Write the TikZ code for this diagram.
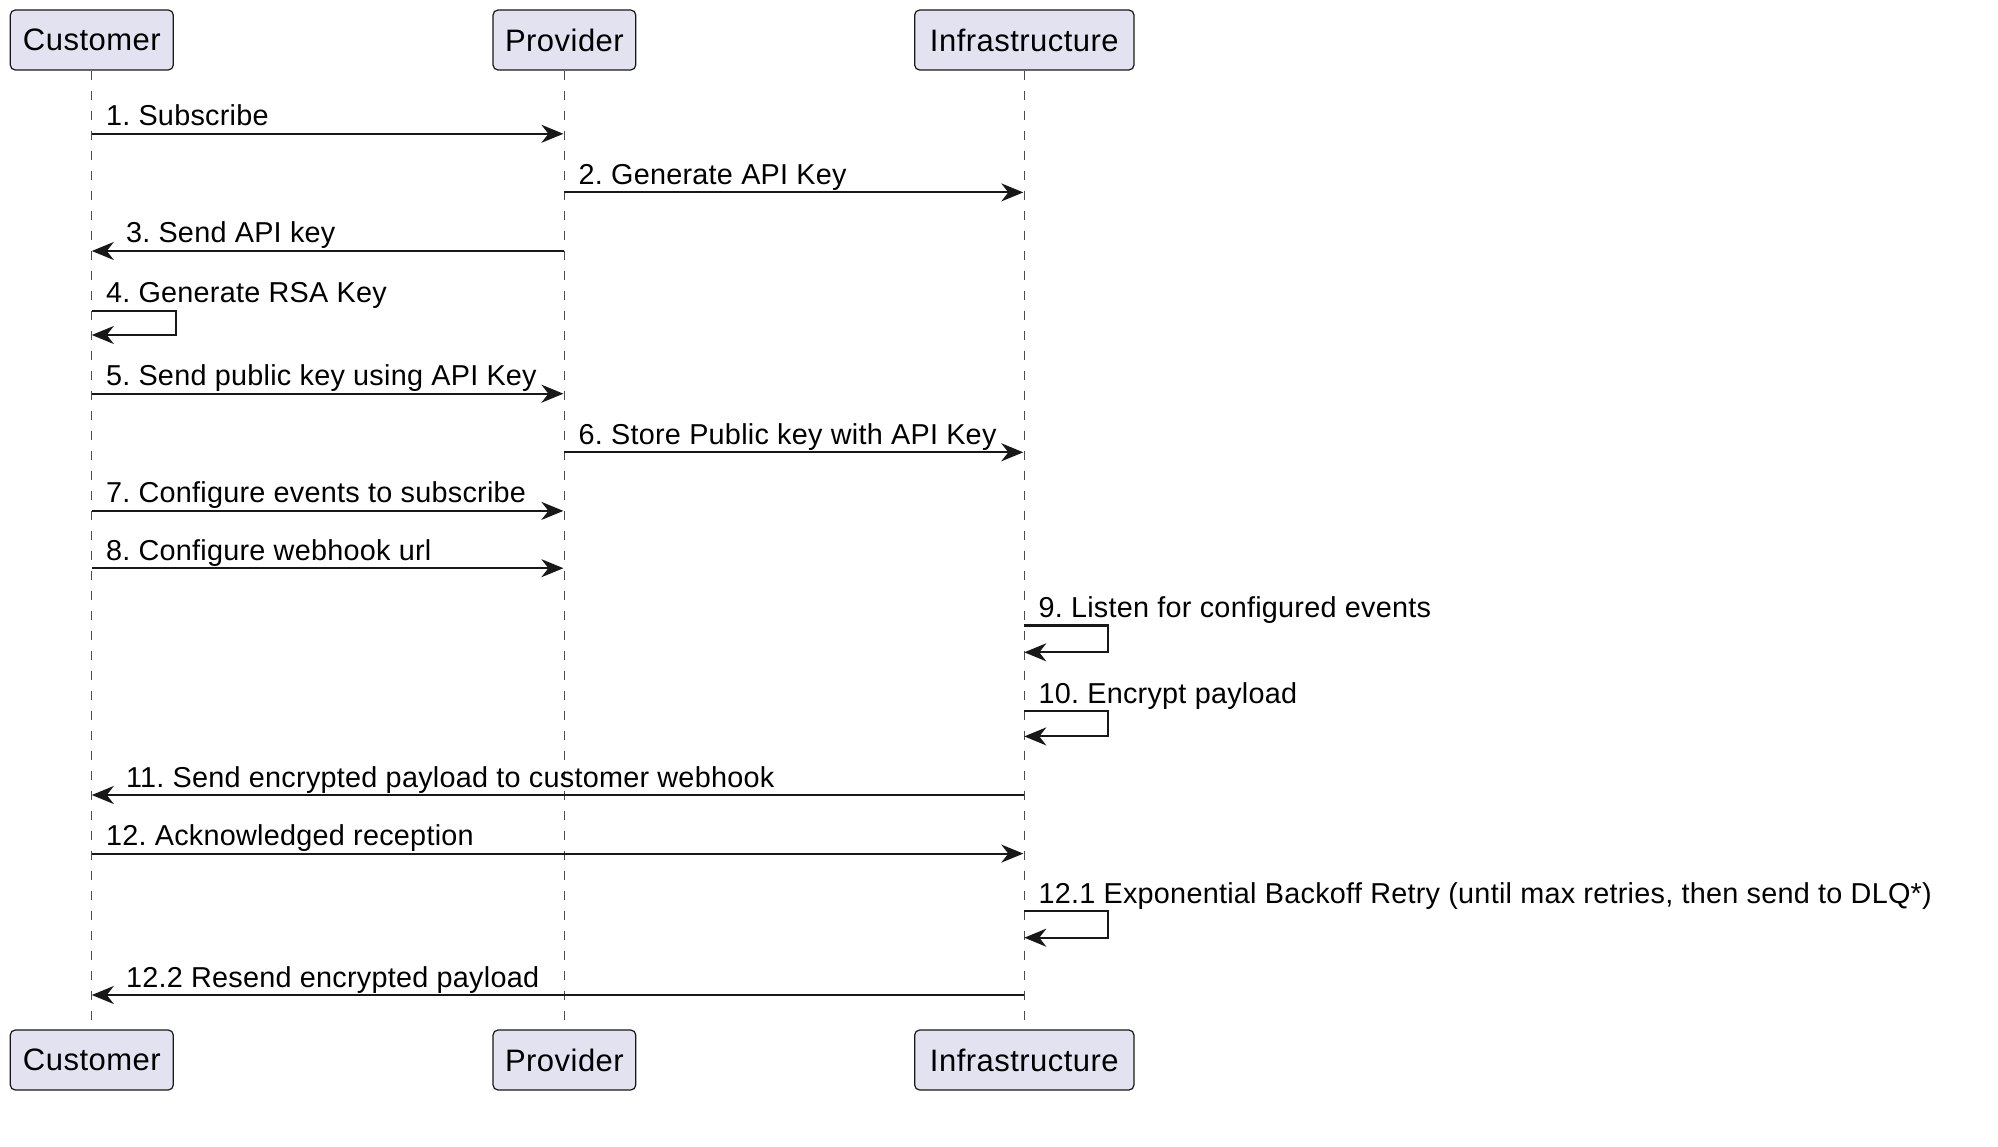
\documentclass[tikz,border=0pt]{standalone}
\usepackage{fontspec}
\setmainfont{Liberation Sans}
\newfontfamily\msgfont[LetterSpace=0.9]{Liberation Sans}
\newfontfamily\partfont[LetterSpace=1.5]{Liberation Sans}
\usetikzlibrary{arrows.meta}
\definecolor{partfill}{HTML}{E2E2F0}
\definecolor{ink}{HTML}{181818}
\frenchspacing
\begin{document}
\begin{tikzpicture}[x=1pt,y=-1pt,
  part/.style={draw=ink, line width=1.2pt, fill=partfill, rounded corners=5pt,
    minimum height=60pt, inner sep=0pt, font=\partfont\fontsize{31}{37}\selectfont, text=black},
  life/.style={draw=black!70, line width=1.3pt, dash pattern=on 9pt off 11pt},
  msg/.style={draw=ink, line width=2.1pt, -{Stealth[length=22pt,width=18pt,inset=7pt]}},
  lbl/.style={anchor=base west, inner sep=0pt, font=\msgfont\fontsize{28.8}{34}\selectfont, text=black},
]
\useasboundingbox[fill=white] (0,0) rectangle (1998,1147);

% participants
\node[part, minimum width=163pt] (cT) at (91.8,40) {Customer};
\node[part, minimum width=142.7pt] (pT) at (564.4,40) {Provider};
\node[part, minimum width=219.3pt] (iT) at (1024.3,40) {Infrastructure};
\node[part, minimum width=163pt] (cB) at (91.8,1060) {Customer};
\node[part, minimum width=142.7pt] (pB) at (564.4,1060) {Provider};
\node[part, minimum width=219.3pt] (iB) at (1024.3,1060) {Infrastructure};

% lifelines
\draw[life] (cT.south) -- (cB.north);
\draw[life] (pT.south) -- (pB.north);
\draw[life] (iT.south) -- (iB.north);

% coordinates on lifelines
\def\cx{91.8}\def\px{564.4}\def\ix{1024.3}
\coordinate (c1) at (\cx,133.8); \coordinate (p1) at (\px-1,133.8);
\coordinate (p2) at (\px,192.4); \coordinate (i2) at (\ix-1,192.4);
\coordinate (p3) at (\px,251);   \coordinate (c3) at (\cx,251);
\coordinate (c4a) at (\cx,310.9); \coordinate (c4b) at (\cx,335);
\coordinate (c5) at (\cx,393.7); \coordinate (p5) at (\px-1,393.7);
\coordinate (p6) at (\px,452.3); \coordinate (i6) at (\ix-1,452.3);
\coordinate (c7) at (\cx,510.9); \coordinate (p7) at (\px-1,510.9);
\coordinate (c8) at (\cx,568.2); \coordinate (p8) at (\px-1,568.2);
\coordinate (i9a) at (\ix,625.5); \coordinate (i9b) at (\ix,652.3);
\coordinate (i10a) at (\ix,711); \coordinate (i10b) at (\ix,736.4);
\coordinate (i11) at (\ix,795); \coordinate (c11) at (\cx,795);
\coordinate (c12) at (\cx,853.6); \coordinate (i12) at (\ix-1,853.6);
\coordinate (i121a) at (\ix,911); \coordinate (i121b) at (\ix,937.7);
\coordinate (i122) at (\ix,995); \coordinate (c122) at (\cx,995);

\def\up{8}
% messages
\draw[msg] (c1) -- (p1);
\node[lbl] (l1) at (\cx+14,133.8-\up) {1. Subscribe};
\draw[msg] (p2) -- (i2);
\node[lbl] (l2) at (\px+14,192.4-\up) {2. Generate API Key};
\draw[msg] (p3) -- (c3);
\node[lbl] (l3) at (\cx+34,251-\up) {3. Send API key};
\draw[msg] (c4a) -- ++(84,0) |- (c4b);
\node[lbl] (l4) at (\cx+14,310.9-\up) {4. Generate RSA Key};
\draw[msg] (c5) -- (p5);
\node[lbl] (l5) at (\cx+14,393.7-\up) {5. Send public key using API Key};
\draw[msg] (p6) -- (i6);
\node[lbl] (l6) at (\px+14,452.3-\up) {6. Store Public key with API Key};
\draw[msg] (c7) -- (p7);
\node[lbl] (l7) at (\cx+14,510.9-\up) {7. Configure events to subscribe};
\draw[msg] (c8) -- (p8);
\node[lbl] (l8) at (\cx+14,568.2-\up) {8. Configure webhook url};
\draw[msg] (i9a) -- ++(84,0) |- (i9b);
\node[lbl] (l9) at (\ix+14,625.5-\up) {9. Listen for configured events};
\draw[msg] (i10a) -- ++(84,0) |- (i10b);
\node[lbl] (l10) at (\ix+14,711-\up) {10. Encrypt payload};
\draw[msg] (i11) -- (c11);
\node[lbl] (l11) at (\cx+34,795-\up) {11. Send encrypted payload to customer webhook};
\draw[msg] (c12) -- (i12);
\node[lbl] (l12) at (\cx+14,853.6-\up) {12. Acknowledged reception};
\draw[msg] (i121a) -- ++(84,0) |- (i121b);
\node[lbl] (l121) at (\ix+14,911-\up) {12.1 Exponential Backoff Retry (until max retries, then send to DLQ*)};
\draw[msg] (i122) -- (c122);
\node[lbl] (l122) at (\cx+34,995-\up) {12.2 Resend encrypted payload};
\end{tikzpicture}
\end{document}
